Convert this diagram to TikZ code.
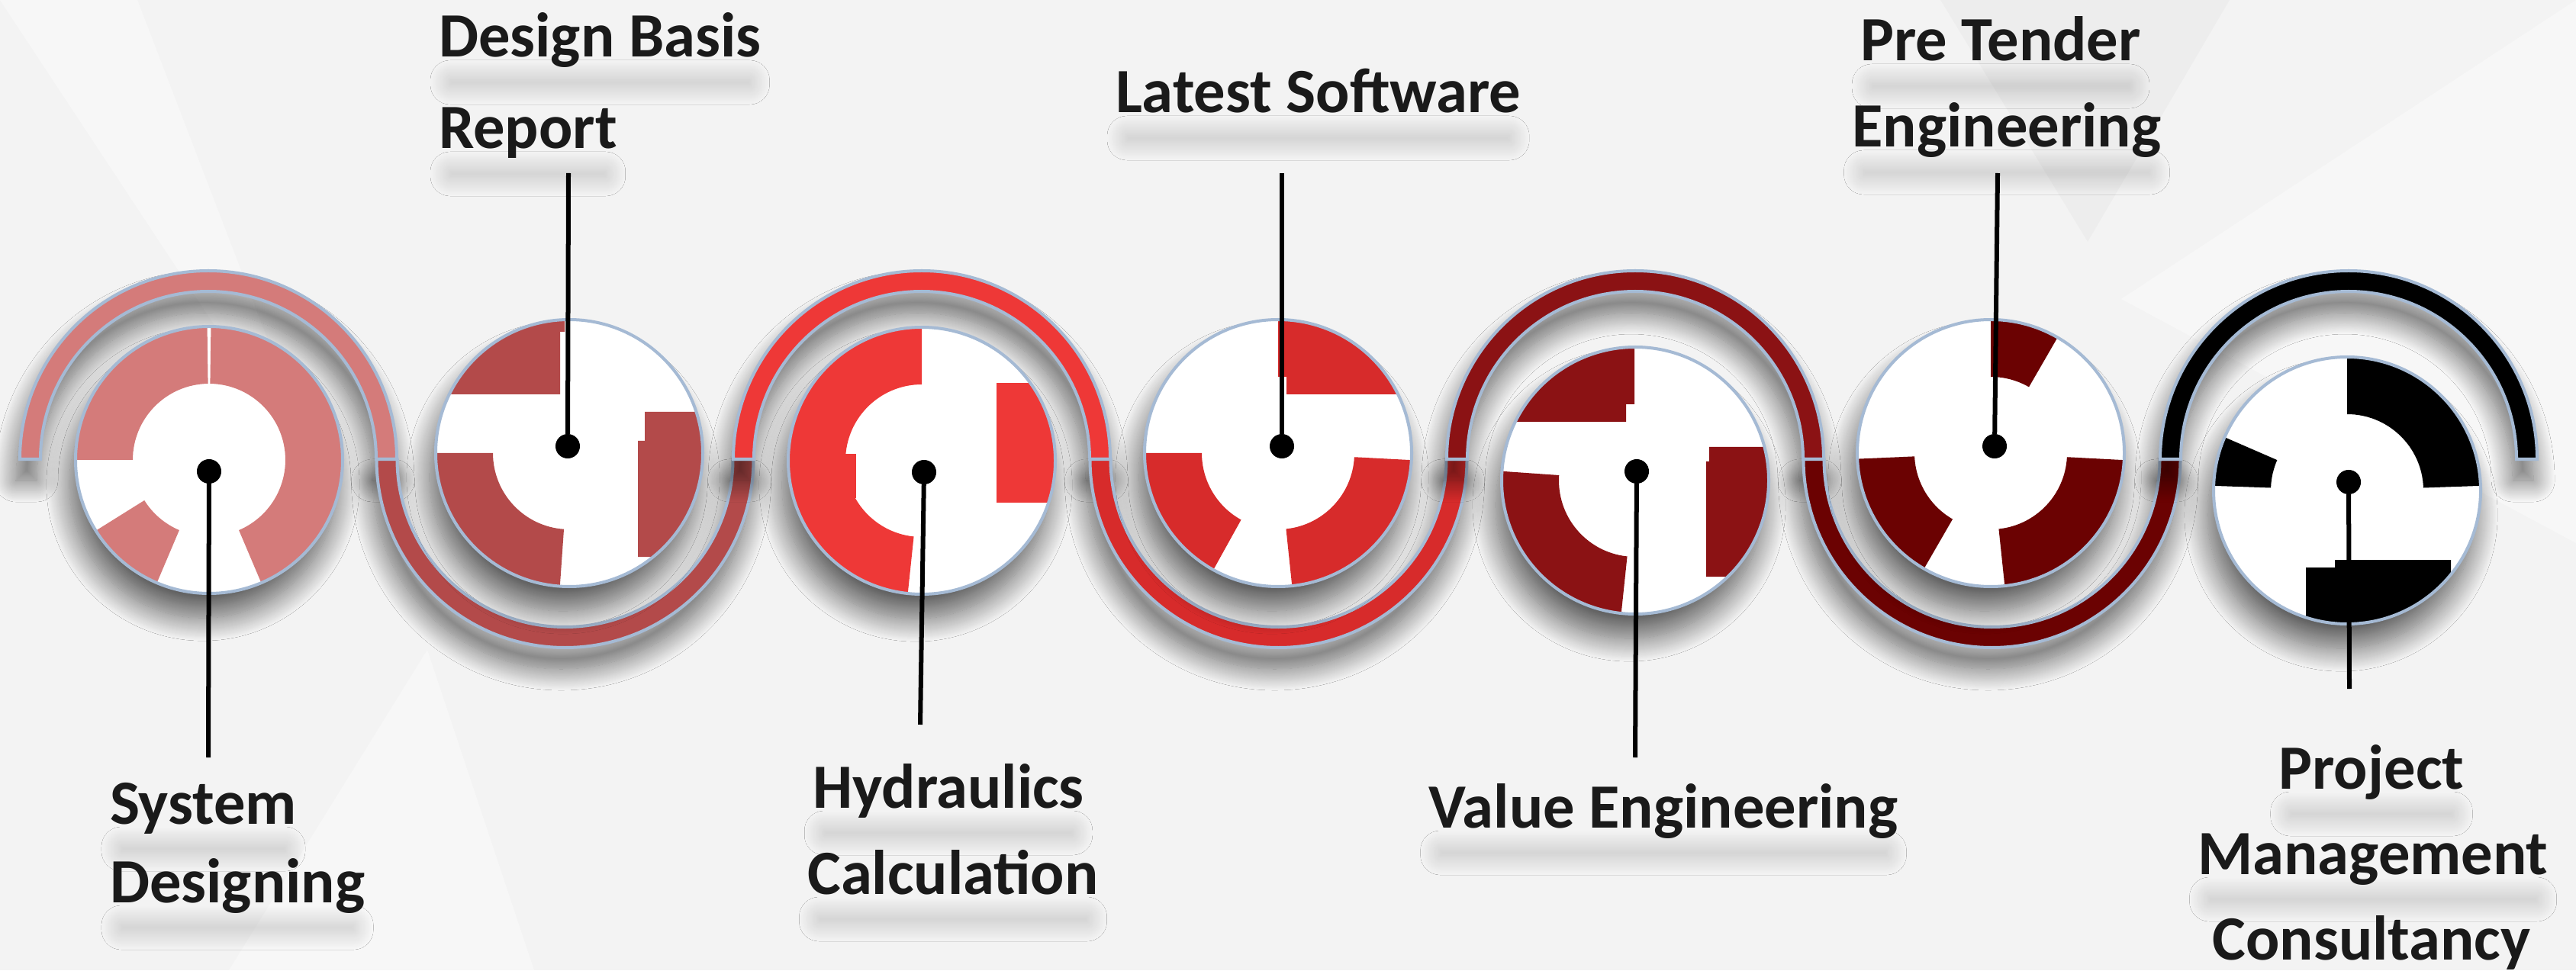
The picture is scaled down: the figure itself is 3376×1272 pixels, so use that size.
\documentclass[tikz,border=0pt]{standalone}
\usepackage{fontspec}
\setmainfont{Carlito}
\usetikzlibrary{shadows.blur}
\definecolor{bgc}{HTML}{F3F3F3}
\definecolor{rim}{HTML}{A5BAD4}
\definecolor{ink}{HTML}{1A1A1A}
\definecolor{c1}{HTML}{D47B7A}
\definecolor{c2}{HTML}{B34A4A}
\definecolor{c3}{HTML}{EE3837}
\definecolor{c4}{HTML}{D72B2B}
\definecolor{c5}{HTML}{8B1214}
\definecolor{c6}{HTML}{6B0202}
\definecolor{c7}{HTML}{000000}

\begin{document}
\begin{tikzpicture}[x=0.01cm, y=0.01cm, inner sep=0pt, outer sep=0pt,
	band/.style={draw=rim, line width=0.04cm, blur shadow={shadow xshift=-0.05cm, shadow yshift=-0.28cm, shadow blur radius=0.28cm, shadow blur steps=30, shadow opacity=58}},
	disc/.style={circle, fill=white, minimum size=3.5cm, blur shadow={shadow xshift=-0.08cm, shadow yshift=-0.32cm, shadow blur radius=0.3cm, shadow blur steps=30, shadow opacity=60}},
	rimline/.style={draw=rim, line width=0.04cm},
	knob/.style={circle, fill=black, minimum size=0.32cm},
	pointer/.style={line width=0.06cm, black},
	lbl/.style={font=\fontsize{23.5}{28}\selectfont\bfseries, text=ink},
	textshade/.style={blur shadow={shadow xshift=0cm, shadow yshift=0cm, shadow blur radius=0.26cm, shadow blur steps=30, shadow opacity=22}}]
	\useasboundingbox (0,0) rectangle (3376,1272);
	\fill[bgc] (0,0) rectangle (3376,1272);
	\fill[white, opacity=0.4] (0,1272) -- (180,1272) -- (430,620) -- cycle;
	\fill[black, opacity=0.025] (2543,1272) -- (2922,1272) -- (2736,955) -- cycle;
	\fill[white, opacity=0.35] (2780,880) -- (3376,1272) -- (3376,560) -- cycle;
	\fill[white, opacity=0.35] (300,0) -- (700,0) -- (560,420) -- cycle;

	\path[band, fill=c1] (26,670) arc[start angle=180, end angle=0, radius=247] -- (493,670) arc[start angle=0, end angle=180, radius=220] -- cycle;
	\path[band, fill=c2] (493.5,670) arc[start angle=180, end angle=360, radius=247] -- (960.5,670) arc[start angle=360, end angle=180, radius=220] -- cycle;
	\path[band, fill=c3] (961,670) arc[start angle=180, end angle=0, radius=247] -- (1428,670) arc[start angle=0, end angle=180, radius=220] -- cycle;
	\path[band, fill=c4] (1428.5,670) arc[start angle=180, end angle=360, radius=247] -- (1895.5,670) arc[start angle=360, end angle=180, radius=220] -- cycle;
	\path[band, fill=c5] (1896,670) arc[start angle=180, end angle=0, radius=247] -- (2363,670) arc[start angle=0, end angle=180, radius=220] -- cycle;
	\path[band, fill=c6] (2363.5,670) arc[start angle=180, end angle=360, radius=247] -- (2830.5,670) arc[start angle=360, end angle=180, radius=220] -- cycle;
	\path[band, fill=c7] (2831,670) arc[start angle=180, end angle=0, radius=247] -- (3298,670) arc[start angle=0, end angle=180, radius=220] -- cycle;

	\node[disc] (d1) at (274,669) {};
	\node[disc] (d2) at (746,678) {};
	\node[disc] (d3) at (1208,668) {};
	\node[disc] (d4) at (1675,678) {};
	\node[disc] (d5) at (2143,642) {};
	\node[disc] (d6) at (2609,678) {};
	\node[disc] (d7) at (3076,629) {};

	\begin{scope}
		\clip (d1.center) circle[radius=175];
		\fill[c1] ([shift={(d1.center)}]293:175) arc[start angle=293, end angle=449.2, radius=175] -- ([shift={(d1.center)}]449.2:100) arc[start angle=449.2, end angle=293, radius=100] -- cycle;
		\fill[c1] ([shift={(d1.center)}]90.8:175) arc[start angle=90.8, end angle=180, radius=175] -- ([shift={(d1.center)}]180:100) arc[start angle=180, end angle=90.8, radius=100] -- cycle;
		\fill[c1] ([shift={(d1.center)}]212:175) arc[start angle=212, end angle=247, radius=175] -- ([shift={(d1.center)}]247:100) arc[start angle=247, end angle=212, radius=100] -- cycle;
	\end{scope}
	\begin{scope}
		\clip (d2.center) circle[radius=175];
		\fill[c2] (560,755) -- (734,755) -- (734,837) -- (740,837) -- (740,870) -- (560,870) -- cycle;
		\fill[c2] ([shift={(d2.center)}]180:175) arc[start angle=180, end angle=266, radius=175] -- ([shift={(d2.center)}]266:100) arc[start angle=266, end angle=180, radius=100] -- cycle;
		\fill[c2] (845,732) -- (845,694) -- (836,694) -- (836,542) -- (930,542) -- (930,732) -- cycle;
	\end{scope}
	\begin{scope}
		\clip (d3.center) circle[radius=175];
		\fill[c3] ([shift={(d3.center)}]90:175) arc[start angle=90, end angle=264, radius=175] -- ([shift={(d3.center)}]264:100) arc[start angle=264, end angle=90, radius=100] -- cycle;
		\fill[c3] (1100,619) rectangle (1122,677);
		\fill[c3] (1306,613) rectangle (1400,770);
	\end{scope}
	\begin{scope}
		\clip (d4.center) circle[radius=175];
		\fill[c4] (1675,870) -- (1675,778) -- (1686,778) -- (1686,755) -- (1870,755) -- (1870,870) -- cycle;
		\fill[c4] ([shift={(d4.center)}]180:175) arc[start angle=180, end angle=241, radius=175] -- ([shift={(d4.center)}]241:100) arc[start angle=241, end angle=180, radius=100] -- cycle;
		\fill[c4] ([shift={(d4.center)}]276:175) arc[start angle=276, end angle=357, radius=175] -- ([shift={(d4.center)}]357:100) arc[start angle=357, end angle=276, radius=100] -- cycle;
	\end{scope}
	\begin{scope}
		\clip (d5.center) circle[radius=175];
		\fill[c5] (2142,830) -- (2142,742) -- (2131,742) -- (2131,719) -- (1960,719) -- (1960,830) -- cycle;
		\fill[c5] ([shift={(d5.center)}]176:175) arc[start angle=176, end angle=264, radius=175] -- ([shift={(d5.center)}]264:100) arc[start angle=264, end angle=176, radius=100] -- cycle;
		\fill[c5] (2240,686) -- (2240,667) -- (2236,667) -- (2236,516) -- (2330,516) -- (2330,686) -- cycle;
	\end{scope}
	\begin{scope}
		\clip (d6.center) circle[radius=175];
		\fill[c6] ([shift={(d6.center)}]60:175) arc[start angle=60, end angle=90, radius=175] -- ([shift={(d6.center)}]90:100) arc[start angle=90, end angle=60, radius=100] -- cycle;
		\fill[c6] ([shift={(d6.center)}]182.5:175) arc[start angle=182.5, end angle=240, radius=175] -- ([shift={(d6.center)}]240:100) arc[start angle=240, end angle=182.5, radius=100] -- cycle;
		\fill[c6] ([shift={(d6.center)}]276:175) arc[start angle=276, end angle=357, radius=175] -- ([shift={(d6.center)}]357:100) arc[start angle=357, end angle=276, radius=100] -- cycle;
	\end{scope}
	\begin{scope}
		\clip (d7.center) circle[radius=175];
		\fill[c7] ([shift={(d7.center)}]2:175) arc[start angle=2, end angle=90, radius=175] -- ([shift={(d7.center)}]90:100) arc[start angle=90, end angle=2, radius=100] -- cycle;
		\fill[c7] ([shift={(d7.center)}]156.5:175) arc[start angle=156.5, end angle=178, radius=175] -- ([shift={(d7.center)}]178:100) arc[start angle=178, end angle=156.5, radius=100] -- cycle;
		\fill[c7] (3022,440) -- (3022,528) -- (3060,528) -- (3060,538) -- (3212,538) -- (3212,440) -- cycle;
	\end{scope}

	\draw[rimline] (d1.center) circle[radius=175];
	\draw[rimline] (d2.center) circle[radius=175];
	\draw[rimline] (d3.center) circle[radius=175];
	\draw[rimline] (d4.center) circle[radius=175];
	\draw[rimline] (d5.center) circle[radius=175];
	\draw[rimline] (d6.center) circle[radius=175];
	\draw[rimline] (d7.center) circle[radius=175];

	\node[lbl, anchor=base west] (t1a) at (144,192) {System};
	\node[lbl, anchor=base west] (t1b) at (144,89) {Designing};
	\node[lbl, anchor=base west] (t2a) at (575,1197) {Design Basis};
	\node[lbl, anchor=base west] (t2b) at (575,1077) {Report};
	\node[lbl, anchor=base] (t3a) at (1243,213) {Hydraulics};
	\node[lbl, anchor=base] (t3b) at (1249,100) {Calculation};
	\node[lbl, anchor=base west] (t4a) at (1462,1124) {Latest Software};
	\node[lbl, anchor=base] (t5a) at (2180,187) {Value Engineering};
	\node[lbl, anchor=base] (t6a) at (2622,1192) {Pre Tender};
	\node[lbl, anchor=base] (t6b) at (2630,1079) {Engineering};
	\node[lbl, anchor=base] (t7a) at (3108,238) {Project};
	\node[lbl, anchor=base] (t7b) at (3110,126) {Management};
	\node[lbl, anchor=base] (t7c) at (3108,14) {Consultancy};

	\path[textshade] ([xshift=0.15cm, yshift=-0.3cm]t1a.base west) rectangle ([xshift=-0.15cm, yshift=-0.36cm]t1a.base east);
	\path[textshade] ([xshift=0.15cm, yshift=-0.3cm]t1b.base west) rectangle ([xshift=-0.15cm, yshift=-0.36cm]t1b.base east);
	\path[textshade] ([xshift=0.15cm, yshift=-0.3cm]t2a.base west) rectangle ([xshift=-0.15cm, yshift=-0.36cm]t2a.base east);
	\path[textshade] ([xshift=0.15cm, yshift=-0.3cm]t2b.base west) rectangle ([xshift=-0.15cm, yshift=-0.36cm]t2b.base east);
	\path[textshade] ([xshift=0.15cm, yshift=-0.3cm]t3a.base west) rectangle ([xshift=-0.15cm, yshift=-0.36cm]t3a.base east);
	\path[textshade] ([xshift=0.15cm, yshift=-0.3cm]t3b.base west) rectangle ([xshift=-0.15cm, yshift=-0.36cm]t3b.base east);
	\path[textshade] ([xshift=0.15cm, yshift=-0.3cm]t4a.base west) rectangle ([xshift=-0.15cm, yshift=-0.36cm]t4a.base east);
	\path[textshade] ([xshift=0.15cm, yshift=-0.3cm]t5a.base west) rectangle ([xshift=-0.15cm, yshift=-0.36cm]t5a.base east);
	\path[textshade] ([xshift=0.15cm, yshift=-0.3cm]t6a.base west) rectangle ([xshift=-0.15cm, yshift=-0.36cm]t6a.base east);
	\path[textshade] ([xshift=0.15cm, yshift=-0.3cm]t6b.base west) rectangle ([xshift=-0.15cm, yshift=-0.36cm]t6b.base east);
	\path[textshade] ([xshift=0.15cm, yshift=-0.3cm]t7a.base west) rectangle ([xshift=-0.15cm, yshift=-0.36cm]t7a.base east);
	\path[textshade] ([xshift=0.15cm, yshift=-0.3cm]t7b.base west) rectangle ([xshift=-0.15cm, yshift=-0.36cm]t7b.base east);

	\node[knob] (k1) at (274,654) {};
	\node[knob] (k2) at (744,687) {};
	\node[knob] (k3) at (1211,653) {};
	\node[knob] (k4) at (1680,687) {};
	\node[knob] (k5) at (2145,654) {};
	\node[knob] (k6) at (2614,687) {};
	\node[knob] (k7) at (3078,640) {};
	\coordinate (e1) at (273,279);
	\coordinate (e2) at (745,1045);
	\coordinate (e3) at (1206,322);
	\coordinate (e4) at (1680,1045);
	\coordinate (e5) at (2143,279);
	\coordinate (e6) at (2618,1045);
	\coordinate (e7) at (3079,369);

	\draw[pointer] (k1) -- (e1);
	\draw[pointer] (k2) -- (e2);
	\draw[pointer] (k3) -- (e3);
	\draw[pointer] (k4) -- (e4);
	\draw[pointer] (k5) -- (e5);
	\draw[pointer] (k6) -- (e6);
	\draw[pointer] (k7) -- (e7);
\end{tikzpicture}
\end{document}
